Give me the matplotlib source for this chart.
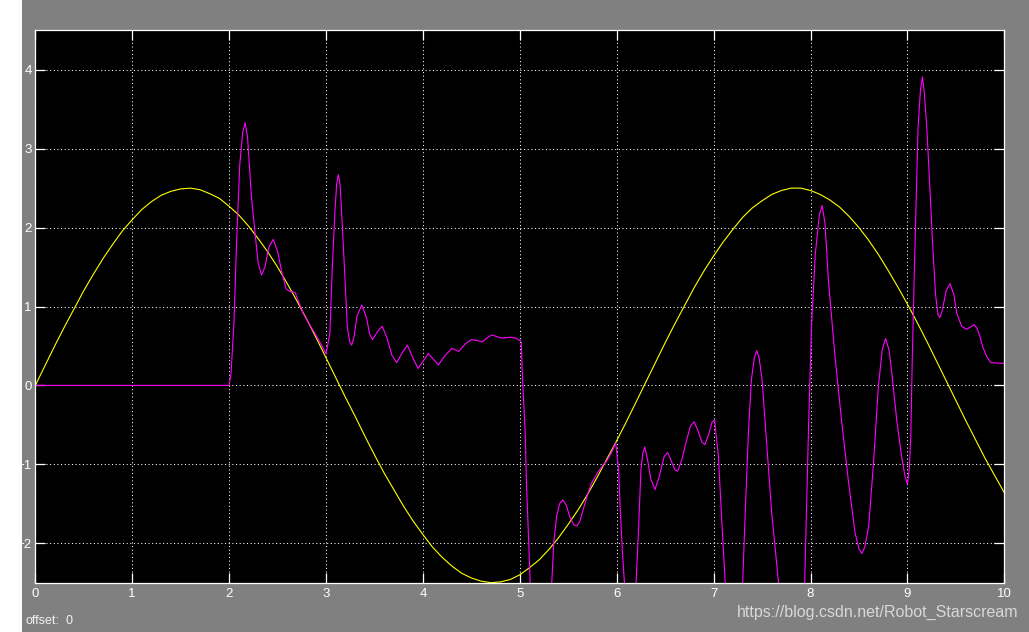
import matplotlib
matplotlib.use("Agg")
from matplotlib import pyplot as plt
from matplotlib.patches import Rectangle

# yellow channel, sampled every 0.1 s
sine_t = [i / 10 for i in range(101)]
sine_y = [0.00, 0.25, 0.50, 0.74, 0.97, 1.20, 1.41, 1.61, 1.79, 1.96,
          2.10, 2.23, 2.33, 2.41, 2.46, 2.49, 2.50, 2.48, 2.43, 2.37,
          2.27, 2.16, 2.02, 1.86, 1.69, 1.50, 1.29, 1.07, 0.84, 0.60,
          0.35, 0.10, -0.15, -0.39, -0.64, -0.88, -1.11, -1.32, -1.53, -1.72,
          -1.89, -2.05, -2.18, -2.29, -2.38, -2.44, -2.48, -2.50, -2.49, -2.46,
          -2.40, -2.31, -2.21, -2.08, -1.93, -1.76, -1.58, -1.38, -1.16, -0.93,
          -0.70, -0.46, -0.21, 0.04, 0.29, 0.54, 0.78, 1.01, 1.24, 1.45,
          1.64, 1.82, 1.98, 2.13, 2.25, 2.34, 2.42, 2.47, 2.50, 2.50,
          2.47, 2.42, 2.35, 2.26, 2.14, 2.00, 1.84, 1.66, 1.46, 1.25,
          1.03, 0.80, 0.56, 0.31, 0.06, -0.19, -0.44, -0.68, -0.92, -1.14,
          -1.36]

# magenta channel, (time, value)
magenta_points = [
    (0.0, 0.0), (2.00, 0.0), (2.02, 0.15), (2.05, 0.8), (2.08, 1.9), (2.11, 2.8),
    (2.14, 3.2), (2.165, 3.33), (2.19, 3.15), (2.23, 2.4), (2.27, 1.9), (2.30, 1.55),
    (2.335, 1.40), (2.37, 1.5), (2.41, 1.75), (2.455, 1.85), (2.50, 1.7), (2.55, 1.4),
    (2.59, 1.22), (2.63, 1.19), (2.68, 1.18), (2.72, 1.05), (2.77, 0.9), (2.82, 0.79),
    (2.89, 0.65), (2.95, 0.52), (3.00, 0.40), (3.04, 0.66), (3.065, 1.50), (3.093, 2.22),
    (3.11, 2.55), (3.127, 2.67), (3.145, 2.55), (3.16, 2.22), (3.19, 1.50), (3.22, 0.74),
    (3.245, 0.55), (3.265, 0.51), (3.29, 0.62), (3.32, 0.88), (3.37, 1.02), (3.42, 0.85),
    (3.45, 0.65), (3.48, 0.58), (3.53, 0.68), (3.58, 0.75), (3.63, 0.60), (3.68, 0.38),
    (3.73, 0.29), (3.78, 0.40), (3.84, 0.51), (3.90, 0.34), (3.95, 0.215), (4.00, 0.30),
    (4.055, 0.405), (4.11, 0.33), (4.16, 0.26), (4.23, 0.38), (4.30, 0.47), (4.37, 0.43),
    (4.44, 0.53), (4.50, 0.58), (4.56, 0.57), (4.61, 0.55), (4.66, 0.60), (4.71, 0.64),
    (4.76, 0.62), (4.81, 0.60), (4.90, 0.61), (4.96, 0.60), (5.00, 0.57), (5.015, 0.55),
    (5.03, 0.03), (5.055, -0.57), (5.07, -1.28), (5.09, -1.92), (5.11, -2.6), (5.16, -3.3),
    (5.22, -3.6), (5.28, -3.3), (5.33, -2.5), (5.35, -2.0), (5.38, -1.66), (5.41, -1.5),
    (5.445, -1.45), (5.48, -1.52), (5.52, -1.68), (5.56, -1.77), (5.59, -1.78), (5.62, -1.72),
    (5.66, -1.55), (5.70, -1.38), (5.74, -1.24), (5.81, -1.09), (5.90, -0.95), (5.95, -0.84),
    (5.99, -0.73), (6.02, -1.07), (6.035, -1.54), (6.06, -2.13), (6.09, -2.7), (6.14, -3.1),
    (6.20, -2.5), (6.225, -1.83), (6.25, -1.07), (6.27, -0.85), (6.29, -0.78), (6.32, -0.95),
    (6.35, -1.18), (6.395, -1.32), (6.44, -1.15), (6.49, -0.9), (6.525, -0.85), (6.56, -0.95),
    (6.60, -1.07), (6.63, -1.085), (6.67, -0.95), (6.72, -0.7), (6.76, -0.52), (6.80, -0.46),
    (6.84, -0.58), (6.88, -0.72), (6.91, -0.75), (6.95, -0.62), (6.985, -0.46), (7.01, -0.44),
    (7.05, -0.90), (7.08, -1.62), (7.12, -2.5), (7.20, -3.4), (7.30, -2.5), (7.325, -1.66),
    (7.36, -0.57), (7.39, 0.07), (7.42, 0.35), (7.445, 0.44), (7.47, 0.35), (7.50, 0.07),
    (7.55, -0.78), (7.60, -1.62), (7.67, -2.5), (7.80, -4.0), (7.94, -2.5), (7.98, -0.52),
    (8.01, 0.74), (8.05, 1.67), (8.09, 2.15), (8.12, 2.28), (8.15, 2.05), (8.185, 1.33),
    (8.25, 0.405), (8.32, -0.44), (8.39, -1.20), (8.46, -1.87), (8.50, -2.07), (8.53, -2.13),
    (8.56, -2.05), (8.60, -1.79), (8.65, -0.99), (8.70, -0.02), (8.74, 0.45), (8.775, 0.595),
    (8.81, 0.45), (8.84, 0.15), (8.89, -0.44), (8.94, -0.90), (8.975, -1.15), (9.00, -1.25),
    (9.02, -1.05), (9.035, -0.65), (9.05, 0.32), (9.07, 1.37), (9.09, 2.30), (9.11, 3.27),
    (9.135, 3.75), (9.155, 3.91), (9.175, 3.7), (9.20, 3.27), (9.235, 2.43), (9.26, 1.80),
    (9.29, 1.16), (9.315, 0.9), (9.335, 0.86), (9.36, 0.95), (9.40, 1.2), (9.44, 1.29),
    (9.48, 1.15), (9.51, 0.91), (9.56, 0.75), (9.61, 0.71), (9.65, 0.74), (9.69, 0.77),
    (9.72, 0.72), (9.75, 0.615), (9.78, 0.48), (9.82, 0.36), (9.86, 0.29), (9.90, 0.285),
    (10.0, 0.28),
]

x_ticks = list(range(0, 11))
y_ticks = [-2, -1, 0, 1, 2, 3, 4]

W, H = 1029, 632
fig = plt.figure(figsize=(W / 100, H / 100), dpi=100, facecolor="#808080")
# white strip on the left edge of the screenshot
fig.patches.append(Rectangle((0, 0), 22 / W, 1, transform=fig.transFigure,
                             facecolor="white", edgecolor="none", zorder=0))

ax = fig.add_axes([35.3 / W, 1 - 582.7 / H, 969 / W, 552.4 / H])
ax.set_facecolor("black")

ax.plot(sine_t, sine_y, color="#ffff00", lw=0.8)
mt = [p[0] for p in magenta_points]
my = [p[1] for p in magenta_points]
ax.plot(mt, my, color="#ff00ff", lw=0.8)

ax.set_xlim(0, 10)
ax.set_ylim(-2.5, 4.5)
ax.set_xticks(x_ticks)
ax.set_yticks(y_ticks)
ax.grid(True, color="white", linestyle=(0, (1, 2.5)), lw=0.75)
for s in ax.spines.values():
    s.set_color("white")
    s.set_linewidth(0.9)
ax.tick_params(direction="in", length=7, width=0.9, color="white",
               top=True, right=True, labelcolor="white", labelsize=9.5)
ax.tick_params(axis="x", pad=4)
ax.tick_params(axis="y", pad=2.5)
for lab in ax.get_xticklabels() + ax.get_yticklabels():
    lab.set_family("Liberation Sans")

fig.text(26 / W, 1 - 621 / H, "offset:", color="#f2f2f2", fontsize=9,
         family="Liberation Sans", va="center")
fig.text(66 / W, 1 - 621 / H, "0", color="#f2f2f2", fontsize=9,
         family="Liberation Sans", va="center")
fig.text(1018 / W, 1 - 612 / H, "https://blog.csdn.net/Robot_Starscream",
         color="#d8d8d8", fontsize=11.5, family="Liberation Sans",
         ha="right", va="center")

plt.savefig("out.png", dpi=100, facecolor=fig.get_facecolor())
